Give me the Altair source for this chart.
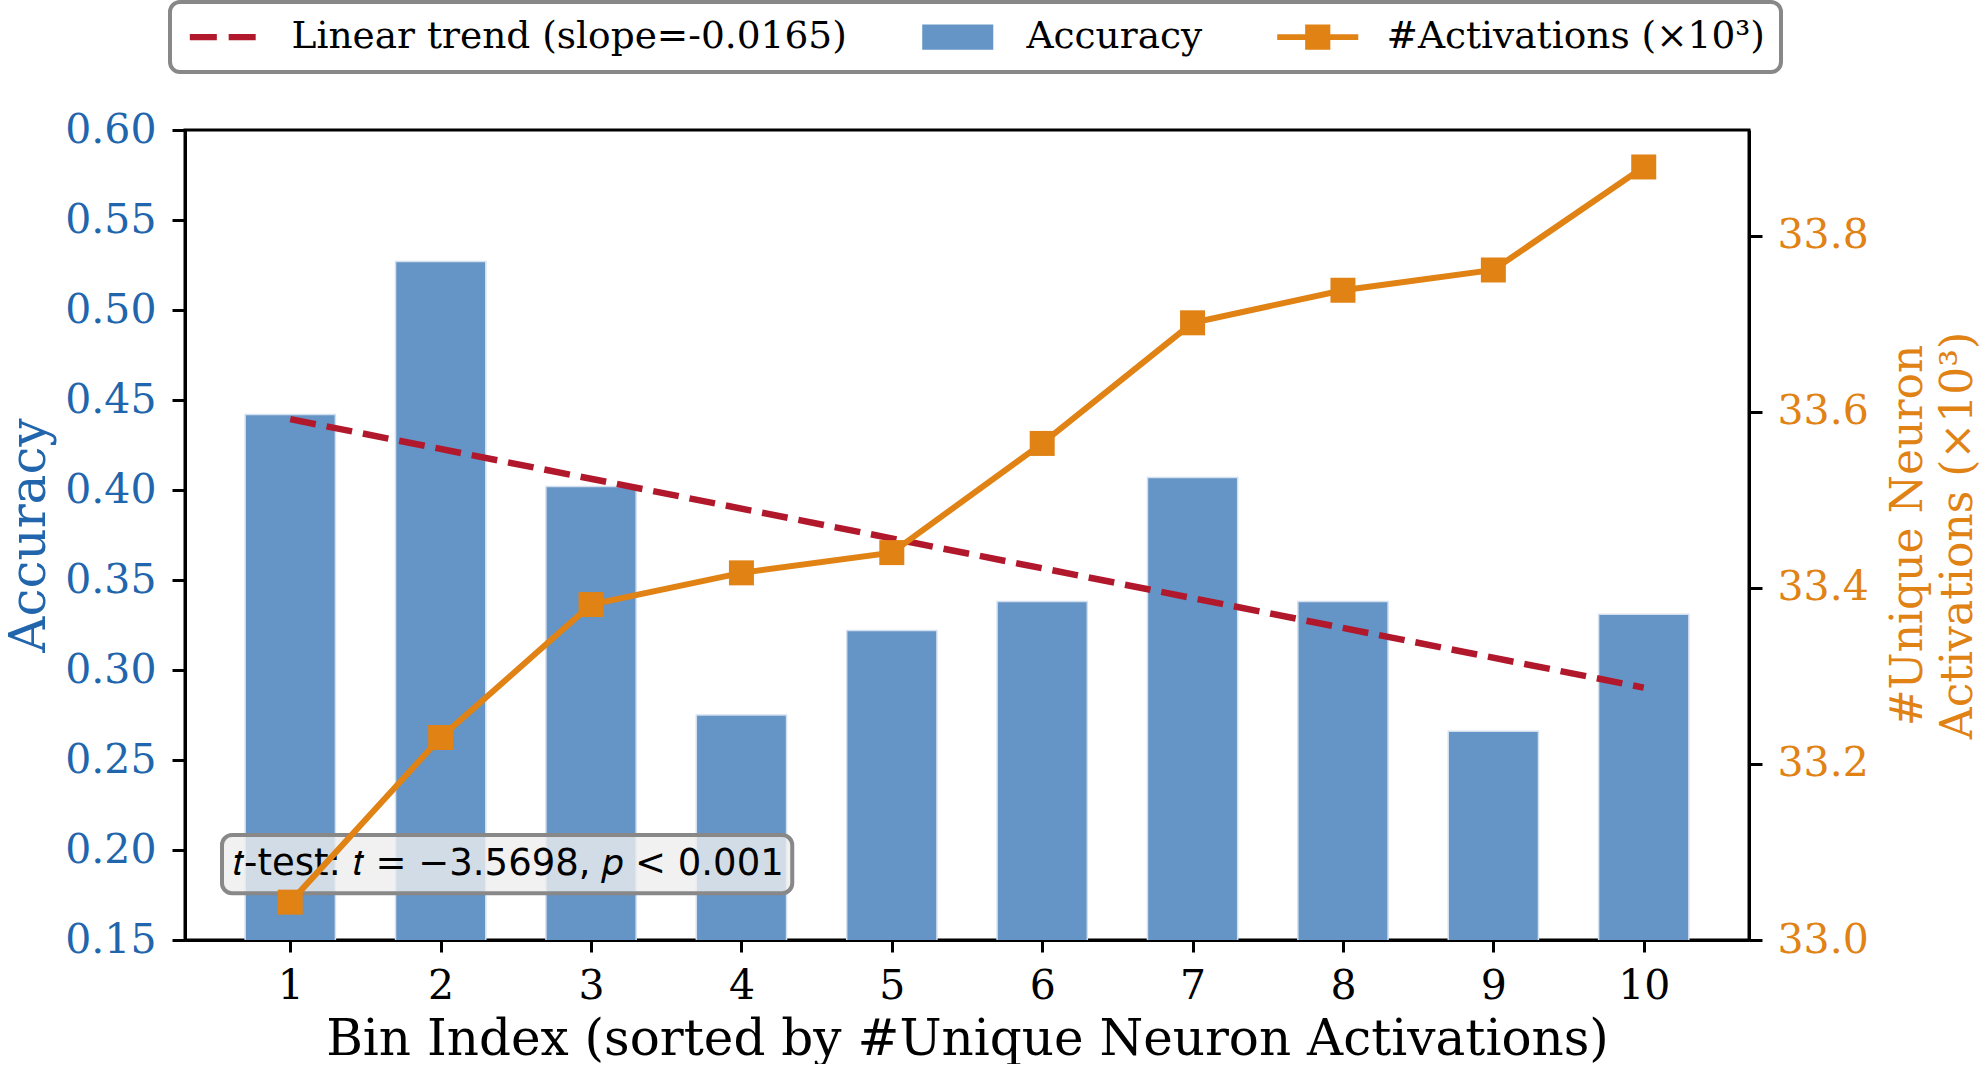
import altair as alt
import pandas as pd

# ---------------- data ----------------
bins = list(range(1, 11))
accuracy = [0.442, 0.527, 0.402, 0.275, 0.322, 0.338, 0.407, 0.338, 0.266, 0.331]
activations = [33.043, 33.230, 33.381, 33.417, 33.440, 33.564, 33.701, 33.738, 33.761, 33.878]

acc_ticks = [0.15, 0.20, 0.25, 0.30, 0.35, 0.40, 0.45, 0.50, 0.55, 0.60]
act_ticks = [33.0, 33.2, 33.4, 33.6, 33.8]
x_ticks = bins

legend_labels = ["Linear trend (slope=-0.0165)", "Accuracy", "#Activations (×10³)"]
legend_colors = ["#B2182B", "#6495C6", "#E08214"]

annotation_text = "𝑡-test: 𝑡 = −3.5698, 𝑝 < 0.001"

# ---------------- styles ----------------
BLUE_TXT = "#2166AC"
ORANGE = "#E08214"
RED = "#B2182B"
BAR = "#6495C6"
SERIF = "DejaVu Serif"

legend_paths = [
    "M-1.78,-0.17H-0.32V0.17H-1.78Z M0.32,-0.17H1.78V0.17H0.32Z",
    "M-1.92,-0.68H1.92V0.68H-1.92Z",
    "M-2.19,-0.16H2.19V0.16H-2.19Z M-0.68,-0.68H0.68V0.68H-0.68Z",
]

df = pd.DataFrame({"bin": bins, "acc": accuracy, "act": activations})
leg_df = pd.DataFrame({"series": legend_labels})
ann_df = pd.DataFrame({"x0": [0.546], "x1": [4.338], "y0": [0.176], "y1": [0.2083],
                       "tx": [0.62], "ty": [0.1925], "label": [annotation_text]})

xscale = alt.Scale(domain=[0.3, 10.7], nice=False, zero=False)
yscale = alt.Scale(domain=[0.15, 0.60], nice=False, zero=False)
y2scale = alt.Scale(domain=[33.0, 33.92], nice=False, zero=False)

xaxis = alt.Axis(values=x_ticks, format="d",
                 title="Bin Index (sorted by #Unique Neuron Activations)",
                 labelFontSize=41, titleFontSize=50, labelPadding=14,
                 titlePadding=8, tickSize=12)
yaxis = alt.Axis(values=acc_ticks, format=".2f", title="Accuracy",
                 labelColor=BLUE_TXT, titleColor=BLUE_TXT,
                 labelFontSize=41, titleFontSize=50, labelPadding=16,
                 titlePadding=10, tickSize=13)
y2axis = alt.Axis(orient="right", values=act_ticks, format=".1f",
                  title=["#Unique Neuron", "Activations (×10³)"],
                  labelColor=ORANGE, titleColor=ORANGE,
                  labelFontSize=41, titleFontSize=44, titleLineHeight=50,
                  labelPadding=15, titlePadding=12, tickSize=13,
                  titleAngle=270)

base = alt.Chart(df)

bars = base.transform_calculate(
    xl="datum.bin - 0.3", xr="datum.bin + 0.3"
).mark_bar(color=BAR, clip=True, stroke="#d4e0ee", strokeWidth=1.5).encode(
    x=alt.X("xl:Q", scale=xscale, axis=xaxis),
    x2="xr:Q",
    y=alt.Y("acc:Q", scale=yscale, axis=yaxis),
    y2=alt.datum(0),
)

ann_box = alt.Chart(ann_df).mark_rect(
    cornerRadius=10, fill="#eeeeee", fillOpacity=0.8, stroke="#888888", strokeWidth=4
).encode(
    x=alt.X("x0:Q", scale=xscale, axis=xaxis), x2="x1:Q",
    y=alt.Y("y0:Q", scale=yscale, axis=yaxis), y2="y1:Q",
)

ann_text = alt.Chart(ann_df).mark_text(
    align="left", baseline="middle", font="DejaVu Sans", fontSize=37, color="black"
).encode(
    x=alt.X("tx:Q", scale=xscale, axis=xaxis),
    y=alt.Y("ty:Q", scale=yscale, axis=yaxis),
    text="label:N",
)

trend = base.transform_regression("bin", "acc", method="linear").mark_line(
    color=RED, strokeWidth=6.5, strokeDash=[26, 11]
).encode(
    x=alt.X("bin:Q", scale=xscale, axis=xaxis),
    y=alt.Y("acc:Q", scale=yscale, axis=yaxis),
)

legend_def = alt.Legend(
    orient="none", legendX=-15, legendY=-128,
    direction="horizontal", title=None,
    labelFont=SERIF, labelFontSize=37.5, labelColor="black",
    labelLimit=2000, symbolSize=1369, symbolStrokeWidth=0,
    symbolOpacity=1, labelOffset=50, columnPadding=74,
    padding=16, symbolOffset=18,
    strokeColor="#888888", cornerRadius=10, fillColor="white")

legend_layer = alt.Chart(leg_df).mark_point(filled=True, opacity=0).encode(
    x=alt.value(0), y=alt.value(0),
    color=alt.Color("series:N", sort=legend_labels,
                    scale=alt.Scale(domain=legend_labels, range=legend_colors),
                    legend=legend_def),
    shape=alt.Shape("series:N", sort=legend_labels,
                    scale=alt.Scale(domain=legend_labels, range=legend_paths),
                    legend=legend_def),
)

left = alt.layer(bars, ann_box, ann_text, trend, legend_layer)

act_line = base.mark_line(color=ORANGE, strokeWidth=6).encode(
    x=alt.X("bin:Q", scale=xscale, axis=xaxis),
    y=alt.Y("act:Q", scale=y2scale, axis=y2axis),
)
act_pts = base.mark_point(shape="square", filled=True, size=625, color=ORANGE, opacity=1).encode(
    x=alt.X("bin:Q", scale=xscale, axis=xaxis),
    y=alt.Y("act:Q", scale=y2scale, axis=y2axis),
)
right = alt.layer(act_line, act_pts)

chart = alt.layer(left, right).resolve_scale(y="independent").properties(
    width=1564, height=810,
    padding={"left": 4, "top": 0, "right": 0, "bottom": 0},
).configure_view(
    stroke="black", strokeWidth=3
).configure_axis(
    grid=False, domainColor="black", domainWidth=3, tickColor="black", tickWidth=3,
    labelFont=SERIF, titleFont=SERIF, titleFontWeight="normal", labelColor="black",
    titleColor="black",
).configure_legend(
    strokeWidth=4
)

chart.save("out.html", embed_options={"renderer": "svg", "actions": False})
